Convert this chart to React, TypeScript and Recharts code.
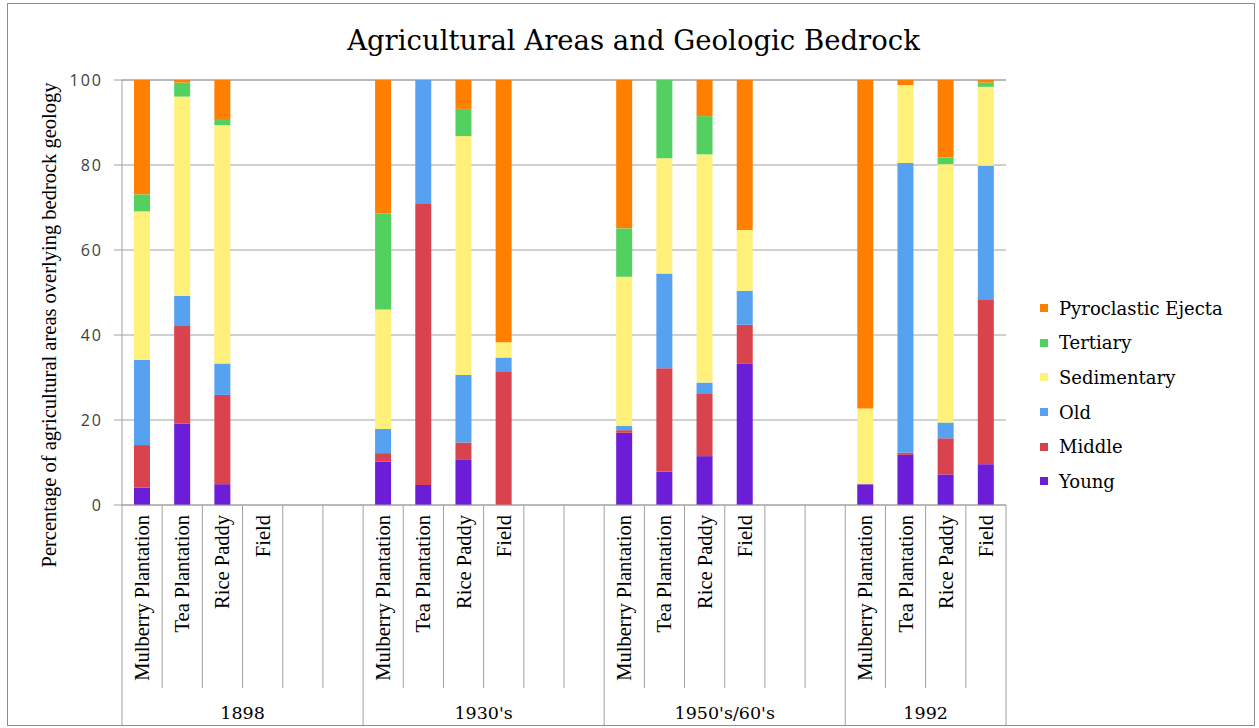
import React from 'react';
import { BarChart, Bar, XAxis, YAxis, CartesianGrid, Legend, Label } from 'recharts';

// Time periods and the land uses surveyed in each
const periods = ['1898', "1930's", "1950's/60's", '1992'];
const slotsPerPeriod = [6, 6, 6, 4];
const landUses = ['Mulberry Plantation', 'Tea Plantation', 'Rice Paddy', 'Field'];

// Percentage of each agricultural area lying over each bedrock type (one value per slot)
const young = [4.1, 19.2, 4.9, 0, 0, 0, 10.2, 4.7, 10.6, 0, 0, 0, 17, 7.8, 11.5, 33.2, 0, 0, 4.9, 11.8, 7.2, 9.6];
const middle = [10, 22.9, 21, 0, 0, 0, 2, 66.3, 4.1, 31.5, 0, 0, 0.6, 24.4, 14.8, 9.2, 0, 0, 0, 0.5, 8.5, 38.8];
const old = [20, 7.1, 7.4, 0, 0, 0, 5.7, 29, 15.9, 3.2, 0, 0, 1, 22.3, 2.5, 8, 0, 0, 0, 68.2, 3.7, 31.4];
const sedimentary = [35, 46.9, 56.1, 0, 0, 0, 28.1, 0, 56.2, 3.6, 0, 0, 35.1, 27.1, 53.7, 14.3, 0, 0, 17.8, 18.3, 60.8, 18.6];
const tertiary = [4, 3.3, 1.2, 0, 0, 0, 22.6, 0, 6.4, 0, 0, 0, 11.4, 18.4, 9, 0, 0, 0, 0, 0, 1.6, 1];
const pyroclastic = [26.9, 0.6, 9.4, 0, 0, 0, 31.4, 0, 6.8, 61.7, 0, 0, 34.9, 0, 8.5, 35.3, 0, 0, 77.3, 1.2, 18.2, 0.6];

const yTicks = [0, 20, 40, 60, 80, 100];

const series = [
  { key: 'young', name: 'Young', color: '#6B1DD8', values: young },
  { key: 'middle', name: 'Middle', color: '#D8434E', values: middle },
  { key: 'old', name: 'Old', color: '#56A2F0', values: old },
  { key: 'sedimentary', name: 'Sedimentary', color: '#FFF07A', values: sedimentary },
  { key: 'tertiary', name: 'Tertiary', color: '#52D160', values: tertiary },
  { key: 'pyroclastic', name: 'Pyroclastic Ejecta', color: '#FF8000', values: pyroclastic },
];

type Row = { id: string; label: string; period: number; slot: number; [k: string]: any };

const rows: Row[] = [];
periods.forEach((p, pi) => {
  for (let s = 0; s < slotsPerPeriod[pi]; s++) {
    const i = rows.length;
    const row: Row = { id: `${pi}-${s}`, label: s < landUses.length ? landUses[s] : '', period: pi, slot: s };
    series.forEach((sr) => {
      row[sr.key] = sr.values[i];
    });
    rows.push(row);
  }
});

const W = 1259;
const H = 728;
const PLOT_LEFT = 122;
const PLOT_RIGHT = 1006;
const PLOT_TOP = 80;
const PLOT_BOTTOM = 505;
const Y_AXIS_W = 60;
const BAND = (PLOT_RIGHT - PLOT_LEFT) / rows.length;

const AXIS_GRAY = '#A0A0A0';
const SERIF = '"Liberation Serif", "Times New Roman", serif';
const WIDE_SERIF = '"DejaVu Serif", Georgia, serif';

const CategoryTick = (props: any) => {
  const { x, index } = props;
  const row = rows[index];
  if (!row) return null;
  const left = x - BAND / 2;
  const right = x + BAND / 2;
  const groupStart = row.slot === 0;
  const isLast = index === rows.length - 1;
  const groupSpan = slotsPerPeriod[row.period] * BAND;
  return (
    <g>
      <line x1={left} x2={left} y1={PLOT_BOTTOM} y2={groupStart ? PLOT_BOTTOM + 220 : PLOT_BOTTOM + 183} stroke={AXIS_GRAY} strokeWidth={1} />
      {isLast && <line x1={right} x2={right} y1={PLOT_BOTTOM} y2={PLOT_BOTTOM + 220} stroke={AXIS_GRAY} strokeWidth={1} />}
      {row.label && (
        <text
          transform={`translate(${x},${PLOT_BOTTOM + 10}) rotate(-90)`}
          textAnchor="end"
          dominantBaseline="central"
          fontFamily={SERIF}
          fontSize={20.5}
          fill="#000"
        >
          {row.label}
        </text>
      )}
      {groupStart && (
        <text
          x={left + groupSpan / 2}
          y={PLOT_BOTTOM + 208}
          textAnchor="middle"
          dominantBaseline="central"
          fontFamily={WIDE_SERIF}
          fontSize={17.5}
          fill="#000"
        >
          {periods[row.period]}
        </text>
      )}
    </g>
  );
};

const LegendContent = () => (
  <div style={{ fontFamily: WIDE_SERIF, fontSize: 18, color: '#000' }}>
    {[...series].reverse().map((s) => (
      <div key={s.key} style={{ display: 'flex', alignItems: 'center', height: 34.6 }}>
        <span style={{ display: 'inline-block', width: 8, height: 8, background: s.color, marginRight: 11 }} />
        <span>{s.name}</span>
      </div>
    ))}
  </div>
);

const YLabel = () => (
  <text
    transform={`translate(49,325) rotate(-90)`}
    textAnchor="middle"
    dominantBaseline="central"
    fontFamily={SERIF}
    fontSize={20.5}
    fill="#000"
  >
    Percentage of agricultural areas overlying bedrock geology
  </text>
);

export default function App() {
  return (
    <div style={{ position: 'absolute', left: 0, top: 0, width: W, height: H, background: '#fff' }}>
      <div
        style={{
          position: 'absolute',
          left: 7,
          top: 3,
          width: 1248,
          height: 723,
          border: '1px solid #8C8C8C',
          boxSizing: 'border-box',
        }}
      />
      <div
        style={{
          position: 'absolute',
          left: 0,
          width: W,
          top: 21,
          textAlign: 'center',
          fontFamily: WIDE_SERIF,
          fontSize: 27.5,
          lineHeight: '38px',
          color: '#000',
          paddingLeft: 4,
        }}
      >
        Agricultural Areas and Geologic Bedrock
      </div>
      <BarChart
        width={W}
        height={H}
        data={rows}
        barSize={16}
        margin={{ top: PLOT_TOP, right: W - PLOT_RIGHT, bottom: 3, left: PLOT_LEFT - Y_AXIS_W }}
        style={{ position: 'absolute', left: 0, top: 0 }}
      >
        <CartesianGrid vertical={false} stroke={AXIS_GRAY} strokeWidth={1} />
        <XAxis
          dataKey="id"
          interval={0}
          height={H - PLOT_BOTTOM - 3}
          axisLine={{ stroke: AXIS_GRAY }}
          tickLine={false}
          tick={<CategoryTick />}
        />
        <YAxis
          domain={[0, 100]}
          ticks={yTicks}
          width={Y_AXIS_W}
          axisLine={{ stroke: AXIS_GRAY }}
          tickLine={{ stroke: AXIS_GRAY }}
          tickSize={8}
          tickMargin={11}
          tick={{ fontFamily: '"Open Sans", sans-serif', fontSize: 16, fill: '#404040', letterSpacing: 2 }}
        >
          <Label content={<YLabel />} />
        </YAxis>
        <Legend
          layout="vertical"
          align="center"
          verticalAlign="middle"
          content={<LegendContent />}
          wrapperStyle={{ left: 1040, top: 291, width: 215, height: 210 }}
        />
        {series.map((s) => (
          <Bar key={s.key} dataKey={s.key} name={s.name} stackId="geo" fill={s.color} isAnimationActive={false} />
        ))}
      </BarChart>
    </div>
  );
}
